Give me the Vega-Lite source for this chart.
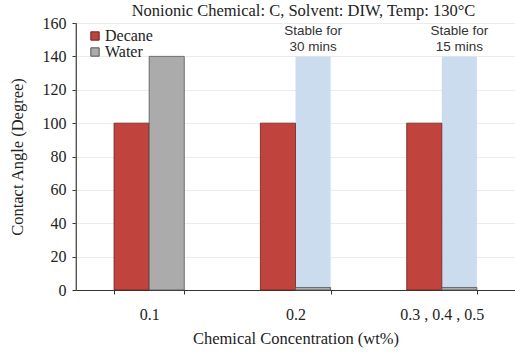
{
  "$schema": "https://vega.github.io/schema/vega-lite/v6.json",
  "width": 439,
  "height": 267,
  "autosize": "none",
  "padding": {"left": 76, "top": 23, "right": 0, "bottom": 63},
  "background": "white",
  "title": {"text": "Nonionic Chemical: C, Solvent: DIW, Temp: 130°C", "font": "Liberation Serif", "fontSize": 16.5, "fontWeight": "normal", "color": "#222", "offset": -4, "anchor": "middle", "dx": 8},
  "config": {"view": {"stroke": null}},
  "datasets": {
    "bars": [
      {"conc": "0.1", "series": "Decane", "value": 100},
      {"conc": "0.1", "series": "Water", "value": 140},
      {"conc": "0.2", "series": "Decane", "value": 100},
      {"conc": "0.2", "series": "Water", "value": 1.5},
      {"conc": "0.3 , 0.4 , 0.5", "series": "Decane", "value": 100},
      {"conc": "0.3 , 0.4 , 0.5", "series": "Water", "value": 1.5}
    ],
    "drops": [
      {"conc": "0.2", "series": "Water", "value": 140, "l1": "Stable for", "l2": "30 mins"},
      {"conc": "0.3 , 0.4 , 0.5", "series": "Water", "value": 140, "l1": "Stable for", "l2": "15 mins"}
    ]
  },
  "encoding": {
    "x": {"field": "conc", "type": "nominal", "sort": null,
      "scale": {"domain": ["0.1", "0.2", "0.3 , 0.4 , 0.5"], "paddingInner": 0.52, "paddingOuter": 0.26},
      "axis": {"title": "Chemical Concentration (wt%)", "labelAngle": 0, "labelFont": "Liberation Serif", "labelFontSize": 16, "labelColor": "#222", "labelPadding": 12, "titleFont": "Liberation Serif", "titleFontSize": 16.5, "titleFontWeight": "normal", "titleColor": "#222", "titlePadding": 8, "tickBand": "extent", "tickColor": "#333", "tickSize": 4, "domainColor": "#333", "grid": false}}
  },
  "layer": [
    {
      "data": {"name": "drops"},
      "mark": {"type": "bar", "color": "#c9daee", "opacity": 0.95},
      "encoding": {
        "xOffset": {"field": "series", "type": "nominal", "scale": {"domain": ["Decane", "Water"], "paddingInner": 0}},
        "y": {"field": "value", "type": "quantitative",
          "scale": {"domain": [0, 160]},
          "axis": {"values": [0, 20, 40, 60, 80, 100, 120, 140, 160], "title": "Contact Angle (Degree)", "labelFont": "Liberation Serif", "labelFontSize": 16, "labelColor": "#222", "labelPadding": 6, "titleFont": "Liberation Serif", "titleFontSize": 16.5, "titleFontWeight": "normal", "titleColor": "#222", "titlePadding": 17, "tickColor": "#333", "tickSize": 4, "domainColor": "#333", "gridColor": "#ececec"}}
      }
    },
    {
      "data": {"name": "bars"},
      "mark": {"type": "bar", "strokeWidth": 0.8},
      "encoding": {
        "xOffset": {"field": "series", "type": "nominal", "scale": {"domain": ["Decane", "Water"], "paddingInner": 0}},
        "y": {"field": "value", "type": "quantitative",
          "axis": {"values": [0, 20, 40, 60, 80, 100, 120, 140, 160], "title": "Contact Angle (Degree)", "labelFont": "Liberation Serif", "labelFontSize": 16, "labelColor": "#222", "labelPadding": 6, "titleFont": "Liberation Serif", "titleFontSize": 16.5, "titleFontWeight": "normal", "titleColor": "#222", "titlePadding": 17, "tickColor": "#333", "tickSize": 4, "domainColor": "#333", "gridColor": "#ececec"}},
        "color": {"field": "series", "type": "nominal",
          "scale": {"domain": ["Decane", "Water"], "range": ["#c0433e", "#ababab"]},
          "legend": {"title": null, "orient": "none", "legendX": 11, "legendY": 5, "symbolType": "square", "symbolSize": 70, "symbolStrokeColor": "#555", "symbolStrokeWidth": 1, "labelFont": "Liberation Serif", "labelFontSize": 16, "labelColor": "#222", "rowPadding": 0, "labelOffset": 2}},
        "stroke": {"field": "series", "type": "nominal", "scale": {"domain": ["Decane", "Water"], "range": ["#6b2320", "#555555"]}, "legend": null}
      }
    },
    {
      "data": {"values": [{"v": 160}]},
      "mark": {"type": "rule", "color": "#777", "strokeWidth": 1},
      "encoding": {"y": {"field": "v", "type": "quantitative",
          "axis": {"values": [0, 20, 40, 60, 80, 100, 120, 140, 160], "title": "Contact Angle (Degree)", "labelFont": "Liberation Serif", "labelFontSize": 16, "labelColor": "#222", "labelPadding": 6, "titleFont": "Liberation Serif", "titleFontSize": 16.5, "titleFontWeight": "normal", "titleColor": "#222", "titlePadding": 17, "tickColor": "#333", "tickSize": 4, "domainColor": "#333", "gridColor": "#ececec"}}}
    },
    {
      "data": {"name": "drops"},
      "mark": {"type": "text", "font": "Liberation Sans", "fontSize": 13.5, "color": "#333", "baseline": "middle"},
      "encoding": {"xOffset": {"field": "series", "type": "nominal"}, "y": {"datum": 155, "type": "quantitative",
          "axis": {"values": [0, 20, 40, 60, 80, 100, 120, 140, 160], "title": "Contact Angle (Degree)", "labelFont": "Liberation Serif", "labelFontSize": 16, "labelColor": "#222", "labelPadding": 6, "titleFont": "Liberation Serif", "titleFontSize": 16.5, "titleFontWeight": "normal", "titleColor": "#222", "titlePadding": 17, "tickColor": "#333", "tickSize": 4, "domainColor": "#333", "gridColor": "#ececec"}}, "text": {"field": "l1"}}
    },
    {
      "data": {"name": "drops"},
      "mark": {"type": "text", "font": "Liberation Sans", "fontSize": 13.5, "color": "#333", "baseline": "middle"},
      "encoding": {"xOffset": {"field": "series", "type": "nominal"}, "y": {"datum": 145.5, "type": "quantitative",
          "axis": {"values": [0, 20, 40, 60, 80, 100, 120, 140, 160], "title": "Contact Angle (Degree)", "labelFont": "Liberation Serif", "labelFontSize": 16, "labelColor": "#222", "labelPadding": 6, "titleFont": "Liberation Serif", "titleFontSize": 16.5, "titleFontWeight": "normal", "titleColor": "#222", "titlePadding": 17, "tickColor": "#333", "tickSize": 4, "domainColor": "#333", "gridColor": "#ececec"}}, "text": {"field": "l2"}}
    }
  ]
}
